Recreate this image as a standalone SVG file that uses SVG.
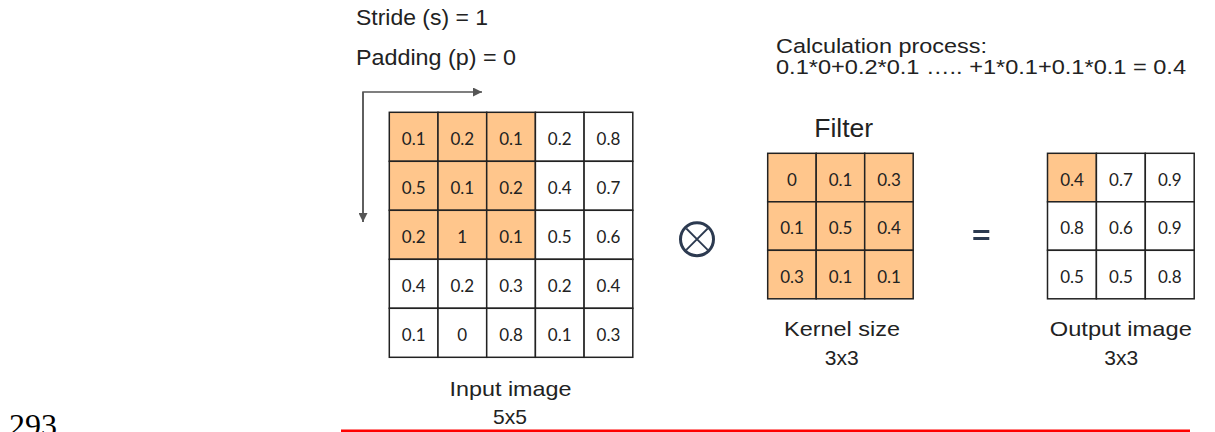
<svg xmlns="http://www.w3.org/2000/svg" width="1215" height="432" viewBox="0 0 1215 432">
  <style>
    .lbl { font-family: "Liberation Sans", Arial, sans-serif; fill: #222; }
    .cell { fill: #ffffff; stroke: #222; stroke-width: 1.5; }
    .hot { fill: #ffc68c; stroke: #222; stroke-width: 1.5; }
    .num { font-family: Lato, "DejaVu Sans", sans-serif; font-size: 17px; fill: #222; text-anchor: middle; }
    .mid { text-anchor: middle; }
    .guide { stroke: #555; stroke-width: 1.5; fill: none; }
    .op { fill: none; stroke: #2c3a50; }
  </style>
  <defs>
    <marker id="tip" viewBox="0 0 10 10" refX="10" refY="5" markerWidth="10" markerHeight="9" markerUnits="userSpaceOnUse" orient="auto">
      <path d="M0,0 L10,5 L0,10 Z" fill="#555"/>
    </marker>
  </defs>

  <rect width="1215" height="432" fill="#ffffff"/>

  <!-- parameters -->
  <g id="params">
    <text class="lbl" x="356" y="25" font-size="21.5" textLength="132" lengthAdjust="spacingAndGlyphs">Stride (s) = 1</text>
    <text class="lbl" x="356" y="65" font-size="21.5" textLength="160" lengthAdjust="spacingAndGlyphs">Padding (p) = 0</text>
  </g>

  <!-- calculation note -->
  <g id="calculation">
    <text class="lbl" x="776" y="52.5" font-size="20.5" textLength="211" lengthAdjust="spacingAndGlyphs">Calculation process:</text>
    <text class="lbl" x="776" y="74" font-size="20.5" textLength="410" lengthAdjust="spacingAndGlyphs">0.1*0+0.2*0.1 ….. +1*0.1+0.1*0.1 = 0.4</text>
  </g>

  <!-- sliding direction guides -->
  <g id="connectors">
    <path class="guide" d="M363,222 L363,92 L482,92" marker-end="url(#tip)"/>
    <path class="guide" d="M363,92 L363,222" marker-end="url(#tip)"/>
  </g>

  <!-- 5x5 input -->
  <g id="input-image">
    <rect class="hot" x="389.3" y="112.3" width="48.7" height="49"/>
    <rect class="hot" x="438" y="112.3" width="48.7" height="49"/>
    <rect class="hot" x="486.7" y="112.3" width="48.7" height="49"/>
    <rect class="cell" x="535.4" y="112.3" width="48.7" height="49"/>
    <rect class="cell" x="584.1" y="112.3" width="48.7" height="49"/>
    <rect class="hot" x="389.3" y="161.3" width="48.7" height="49"/>
    <rect class="hot" x="438" y="161.3" width="48.7" height="49"/>
    <rect class="hot" x="486.7" y="161.3" width="48.7" height="49"/>
    <rect class="cell" x="535.4" y="161.3" width="48.7" height="49"/>
    <rect class="cell" x="584.1" y="161.3" width="48.7" height="49"/>
    <rect class="hot" x="389.3" y="210.3" width="48.7" height="49"/>
    <rect class="hot" x="438" y="210.3" width="48.7" height="49"/>
    <rect class="hot" x="486.7" y="210.3" width="48.7" height="49"/>
    <rect class="cell" x="535.4" y="210.3" width="48.7" height="49"/>
    <rect class="cell" x="584.1" y="210.3" width="48.7" height="49"/>
    <rect class="cell" x="389.3" y="259.3" width="48.7" height="49"/>
    <rect class="cell" x="438" y="259.3" width="48.7" height="49"/>
    <rect class="cell" x="486.7" y="259.3" width="48.7" height="49"/>
    <rect class="cell" x="535.4" y="259.3" width="48.7" height="49"/>
    <rect class="cell" x="584.1" y="259.3" width="48.7" height="49"/>
    <rect class="cell" x="389.3" y="308.3" width="48.7" height="49"/>
    <rect class="cell" x="438" y="308.3" width="48.7" height="49"/>
    <rect class="cell" x="486.7" y="308.3" width="48.7" height="49"/>
    <rect class="cell" x="535.4" y="308.3" width="48.7" height="49"/>
    <rect class="cell" x="584.1" y="308.3" width="48.7" height="49"/>

    <text class="num" x="413.7" y="145.3">0.1</text>
    <text class="num" x="462.3" y="145.3">0.2</text>
    <text class="num" x="511" y="145.3">0.1</text>
    <text class="num" x="559.7" y="145.3">0.2</text>
    <text class="num" x="608.4" y="145.3">0.8</text>
    <text class="num" x="413.7" y="194.3">0.5</text>
    <text class="num" x="462.3" y="194.3">0.1</text>
    <text class="num" x="511" y="194.3">0.2</text>
    <text class="num" x="559.7" y="194.3">0.4</text>
    <text class="num" x="608.4" y="194.3">0.7</text>
    <text class="num" x="413.7" y="243.3">0.2</text>
    <text class="num" x="462.3" y="243.3">1</text>
    <text class="num" x="511" y="243.3">0.1</text>
    <text class="num" x="559.7" y="243.3">0.5</text>
    <text class="num" x="608.4" y="243.3">0.6</text>
    <text class="num" x="413.7" y="292.3">0.4</text>
    <text class="num" x="462.3" y="292.3">0.2</text>
    <text class="num" x="511" y="292.3">0.3</text>
    <text class="num" x="559.7" y="292.3">0.2</text>
    <text class="num" x="608.4" y="292.3">0.4</text>
    <text class="num" x="413.7" y="341.3">0.1</text>
    <text class="num" x="462.3" y="341.3">0</text>
    <text class="num" x="511" y="341.3">0.8</text>
    <text class="num" x="559.7" y="341.3">0.1</text>
    <text class="num" x="608.4" y="341.3">0.3</text>

    <text class="lbl mid" x="510.5" y="396" font-size="21" textLength="122" lengthAdjust="spacingAndGlyphs">Input image</text>
    <text class="lbl mid" x="510" y="424" font-size="21">5x5</text>
  </g>

  <!-- convolution operator -->
  <g id="convolve-op">
    <circle class="op" cx="697" cy="239.2" r="16.5" stroke-width="3"/>
    <path class="op" d="M686.3,228.5 L707.7,249.9 M707.7,228.5 L686.3,249.9" stroke-width="1.8" stroke="#5a6578"/>
  </g>

  <!-- 3x3 kernel -->
  <g id="filter">
    <text class="lbl mid" x="843.7" y="137.3" font-size="25" textLength="59" lengthAdjust="spacingAndGlyphs">Filter</text>
    <rect class="hot" x="767.7" y="153.3" width="48.5" height="48.5"/>
    <rect class="hot" x="816.2" y="153.3" width="48.5" height="48.5"/>
    <rect class="hot" x="864.7" y="153.3" width="48.5" height="48.5"/>
    <rect class="hot" x="767.7" y="201.8" width="48.5" height="48.5"/>
    <rect class="hot" x="816.2" y="201.8" width="48.5" height="48.5"/>
    <rect class="hot" x="864.7" y="201.8" width="48.5" height="48.5"/>
    <rect class="hot" x="767.7" y="250.3" width="48.5" height="48.5"/>
    <rect class="hot" x="816.2" y="250.3" width="48.5" height="48.5"/>
    <rect class="hot" x="864.7" y="250.3" width="48.5" height="48.5"/>

    <text class="num" x="792" y="185.8">0</text>
    <text class="num" x="840.5" y="185.8">0.1</text>
    <text class="num" x="889" y="185.8">0.3</text>
    <text class="num" x="792" y="234.3">0.1</text>
    <text class="num" x="840.5" y="234.3">0.5</text>
    <text class="num" x="889" y="234.3">0.4</text>
    <text class="num" x="792" y="282.8">0.3</text>
    <text class="num" x="840.5" y="282.8">0.1</text>
    <text class="num" x="889" y="282.8">0.1</text>

    <text class="lbl mid" x="842" y="336" font-size="21" textLength="116" lengthAdjust="spacingAndGlyphs">Kernel size</text>
    <text class="lbl mid" x="841.7" y="365" font-size="21">3x3</text>
  </g>

  <!-- equals sign -->
  <g id="equals-op" fill="#2c3a50">
    <rect x="973.3" y="230" width="16" height="3"/>
    <rect x="973.3" y="237" width="16" height="3"/>
  </g>

  <!-- 3x3 output -->
  <g id="output-image">
    <rect class="hot" x="1047.5" y="153.3" width="48.9" height="48.5"/>
    <rect class="cell" x="1096.4" y="153.3" width="48.9" height="48.5"/>
    <rect class="cell" x="1145.3" y="153.3" width="48.9" height="48.5"/>
    <rect class="cell" x="1047.5" y="201.8" width="48.9" height="48.5"/>
    <rect class="cell" x="1096.4" y="201.8" width="48.9" height="48.5"/>
    <rect class="cell" x="1145.3" y="201.8" width="48.9" height="48.5"/>
    <rect class="cell" x="1047.5" y="250.3" width="48.9" height="48.5"/>
    <rect class="cell" x="1096.4" y="250.3" width="48.9" height="48.5"/>
    <rect class="cell" x="1145.3" y="250.3" width="48.9" height="48.5"/>

    <text class="num" x="1072" y="185.8">0.4</text>
    <text class="num" x="1120.9" y="185.8">0.7</text>
    <text class="num" x="1169.8" y="185.8">0.9</text>
    <text class="num" x="1072" y="234.3">0.8</text>
    <text class="num" x="1120.9" y="234.3">0.6</text>
    <text class="num" x="1169.8" y="234.3">0.9</text>
    <text class="num" x="1072" y="282.8">0.5</text>
    <text class="num" x="1120.9" y="282.8">0.5</text>
    <text class="num" x="1169.8" y="282.8">0.8</text>

    <text class="lbl mid" x="1120.8" y="336" font-size="21" textLength="142" lengthAdjust="spacingAndGlyphs">Output image</text>
    <text class="lbl mid" x="1121.3" y="365" font-size="21">3x3</text>
  </g>

  <!-- page number and rule -->
  <text x="9" y="436" font-family="'Liberation Serif', 'Times New Roman', serif" font-size="32" fill="#000">293</text>
  <rect x="341" y="429.5" width="849" height="2.5" fill="#ff0000"/>
</svg>
